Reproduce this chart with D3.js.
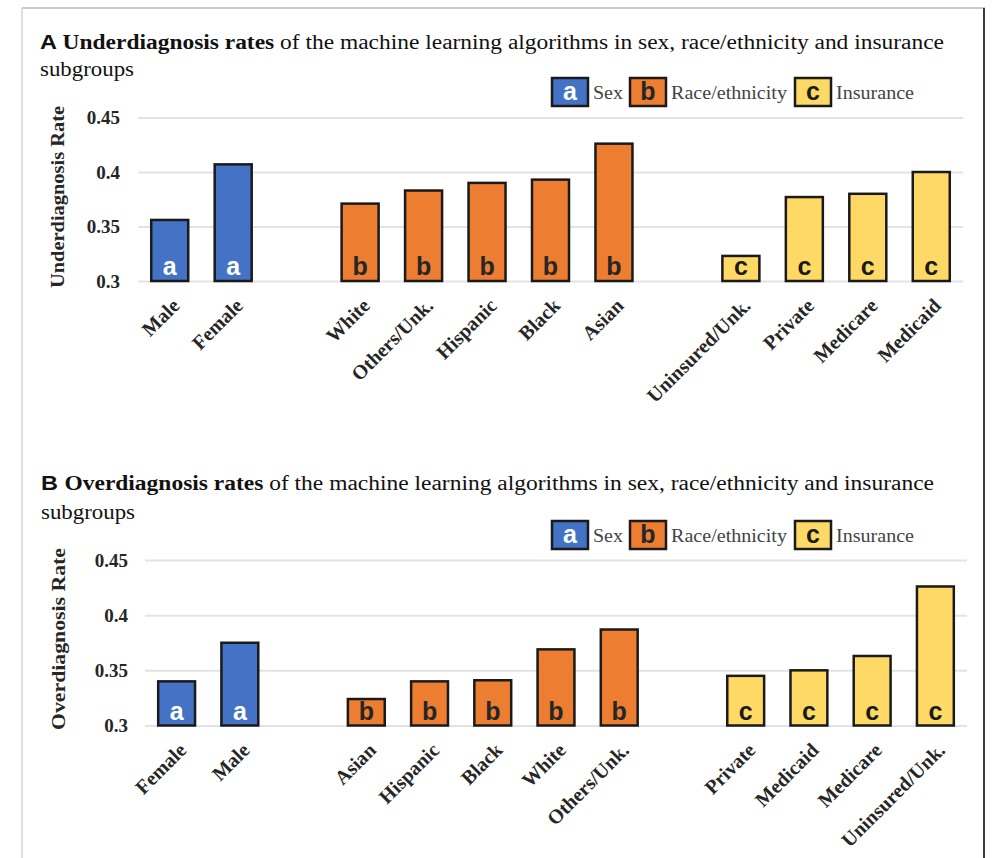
<!DOCTYPE html>
<html>
<head>
<meta charset="utf-8">
<script src="https://cdn.jsdelivr.net/npm/d3@7"></script>
<style>
  html, body { margin: 0; padding: 0; background: #ffffff; }
  svg { display: block; }
</style>
</head>
<body>
<svg id="chart" width="992" height="858"></svg>
<script>
// Panel A: underdiagnosis rates by subgroup
const sexA = ["Male", "Female"];
const sexValuesA = [0.356, 0.407];
const raceA = ["White", "Others/Unk.", "Hispanic", "Black", "Asian"];
const raceValuesA = [0.371, 0.383, 0.390, 0.393, 0.426];
const insuranceA = ["Uninsured/Unk.", "Private", "Medicare", "Medicaid"];
const insuranceValuesA = [0.323, 0.377, 0.380, 0.400];

// Panel B: overdiagnosis rates by subgroup
const sexB = ["Female", "Male"];
const sexValuesB = [0.340, 0.375];
const raceB = ["Asian", "Hispanic", "Black", "White", "Others/Unk."];
const raceValuesB = [0.324, 0.340, 0.341, 0.369, 0.387];
const insuranceB = ["Private", "Medicaid", "Medicare", "Uninsured/Unk."];
const insuranceValuesB = [0.345, 0.350, 0.363, 0.426];

// Axis ticks and legend entries
const yTicks = [0.3, 0.35, 0.4, 0.45];
const yTickLabels = ["0.3", "0.35", "0.4", "0.45"];
const groupNames = ["Sex", "Race/ethnicity", "Insurance"];
const groupLetters = ["a", "b", "c"];

const groupFill = ["#4472C4", "#ED7D31", "#FFD966"];
const letterFill = ["#ffffff", "#262626", "#1a1a1a"];
const serif = "'Liberation Serif', 'Times New Roman', serif";
const sans = "'Liberation Sans', Arial, sans-serif";

const svg = d3.select("#chart");
svg.append("rect").attr("width", 992).attr("height", 858).attr("fill", "#ffffff");

// outer frame
svg.append("line").attr("x1", 22).attr("x2", 985).attr("y1", 8).attr("y2", 8)
  .attr("stroke", "#c9c9c9").attr("stroke-width", 2);
svg.append("line").attr("x1", 22).attr("x2", 22).attr("y1", 8).attr("y2", 858)
  .attr("stroke", "#d6d6d6").attr("stroke-width", 1.5);
svg.append("line").attr("x1", 984).attr("x2", 984).attr("y1", 8).attr("y2", 858)
  .attr("stroke", "#3a3a3a").attr("stroke-width", 2);

function buildRows(prefix, groups) {
  const rows = [];
  const domain = [];
  groups.forEach((g, gi) => {
    if (gi > 0) domain.push(prefix + "-gap" + gi);
    g.names.forEach((name, i) => {
      const key = prefix + "-" + gi + "-" + name;
      rows.push({ key, label: name, value: g.values[i], group: gi });
      domain.push(key);
    });
  });
  return { rows, domain };
}

function drawPanel(cfg) {
  const { rows, domain } = buildRows(cfg.id, cfg.groups);
  const labelOf = new Map(rows.map(r => [r.key, r.label]));

  const x = d3.scaleBand().domain(domain).range([cfg.x0, cfg.x1])
    .paddingInner(0.417).paddingOuter(0.2085);
  const y = d3.scaleLinear().domain([0.3, 0.45]).range([cfg.yBottom, cfg.yTop]);

  const g = svg.append("g");

  // title, two lines
  const title = g.append("text")
    .attr("x", cfg.titleX).attr("y", cfg.titleY)
    .attr("fill", "#111")
    .attr("font-size", 20)
    .attr("textLength", cfg.titleWidth).attr("lengthAdjust", "spacingAndGlyphs");
  title.append("tspan").attr("font-family", sans).attr("font-weight", "bold").text(cfg.letter + " ");
  title.append("tspan").attr("font-family", serif).attr("font-weight", "bold").text(cfg.boldPart);
  title.append("tspan").attr("font-family", serif).text(cfg.restPart);
  g.append("text")
    .attr("x", cfg.titleX).attr("y", cfg.titleY + cfg.subGap)
    .attr("font-family", serif).attr("font-size", 20).attr("fill", "#111")
    .attr("textLength", 94).attr("lengthAdjust", "spacingAndGlyphs")
    .text("subgroups");

  // gridlines
  g.append("g")
    .attr("transform", `translate(${cfg.x0},0)`)
    .call(d3.axisLeft(y).tickValues(yTicks).tickSize(-(cfg.x1 - cfg.x0)).tickFormat(""))
    .call(s => s.select(".domain").remove())
    .call(s => s.selectAll(".tick line").attr("stroke", "#e3e3e3").attr("stroke-width", 2));

  // y axis labels
  g.append("g")
    .attr("transform", `translate(${cfg.x0},0)`)
    .call(d3.axisLeft(y).tickValues(yTicks).tickSize(0).tickPadding(cfg.tickPad)
      .tickFormat((d, i) => yTickLabels[i]))
    .call(s => s.select(".domain").remove())
    .call(s => s.selectAll(".tick text")
      .attr("font-family", serif).attr("font-weight", "bold")
      .attr("font-size", 19).attr("fill", "#262626"));

  // y axis title
  g.append("text")
    .attr("transform", `translate(${cfg.yLabelX},${cfg.yLabelY}) rotate(-90)`)
    .attr("text-anchor", "middle").attr("dy", "0.35em")
    .attr("font-family", serif).attr("font-weight", "bold")
    .attr("font-size", 19).attr("fill", "#262626")
    .attr("textLength", 182).attr("lengthAdjust", "spacingAndGlyphs")
    .text(cfg.yTitle);

  // bars
  g.append("g").selectAll("rect").data(rows).join("rect")
    .attr("x", d => x(d.key))
    .attr("y", d => y(d.value))
    .attr("width", x.bandwidth())
    .attr("height", d => y(0.3) - y(d.value))
    .attr("fill", d => groupFill[d.group])
    .attr("stroke", "#1a1a1a").attr("stroke-width", 2.5);

  // group letters inside bars
  g.append("g").selectAll("text").data(rows).join("text")
    .attr("x", d => x(d.key) + x.bandwidth() / 2)
    .attr("y", y(0.3) - 6)
    .attr("text-anchor", "middle")
    .attr("font-family", sans).attr("font-weight", "bold").attr("font-size", 25)
    .attr("fill", d => letterFill[d.group])
    .text(d => groupLetters[d.group]);

  // category axis
  g.append("g")
    .attr("transform", `translate(0,${y(0.3)})`)
    .call(d3.axisBottom(x).tickValues(rows.map(r => r.key)).tickSize(0)
      .tickFormat(k => labelOf.get(k)))
    .call(s => s.select(".domain").remove())
    .call(s => s.selectAll(".tick text")
      .attr("x", 0).attr("y", 0).attr("dy", "0.35em")
      .attr("text-anchor", "end")
      .attr("transform", "translate(6,21) rotate(-45)")
      .attr("font-family", serif).attr("font-weight", "bold")
      .attr("font-size", 20).attr("fill", "#262626"));

  // legend
  const legendBoxX = [552, 630, 795];
  const legendTextW = [30, 116, 78];
  const lg = g.append("g").attr("transform", `translate(0,${cfg.legendY})`);
  groupNames.forEach((name, i) => {
    lg.append("rect")
      .attr("x", legendBoxX[i]).attr("y", 0).attr("width", 36).attr("height", 28)
      .attr("fill", groupFill[i]).attr("stroke", "#1a1a1a").attr("stroke-width", 2.5);
    lg.append("text")
      .attr("x", legendBoxX[i] + 18).attr("y", 22)
      .attr("text-anchor", "middle")
      .attr("font-family", sans).attr("font-weight", "bold").attr("font-size", 25)
      .attr("fill", letterFill[i]).text(groupLetters[i]);
    lg.append("text")
      .attr("x", legendBoxX[i] + 41).attr("y", 21)
      .attr("font-family", serif).attr("font-size", 18).attr("fill", "#444")
      .attr("textLength", legendTextW[i]).attr("lengthAdjust", "spacingAndGlyphs")
      .text(name);
  });
}

drawPanel({
  id: "A", letter: "A",
  boldPart: "Underdiagnosis rates",
  restPart: " of the machine learning algorithms in sex, race/ethnicity and insurance",
  titleX: 40, titleY: 49, titleWidth: 904, subGap: 27,
  legendY: 78,
  x0: 138, x1: 963, yTop: 117.5, yBottom: 281, tickPad: 18,
  yTitle: "Underdiagnosis Rate", yLabelX: 57, yLabelY: 197,
  groups: [
    { names: sexA, values: sexValuesA },
    { names: raceA, values: raceValuesA },
    { names: insuranceA, values: insuranceValuesA }
  ]
});

drawPanel({
  id: "B", letter: "B",
  boldPart: "Overdiagnosis rates",
  restPart: " of the machine learning algorithms in sex, race/ethnicity and insurance",
  titleX: 41, titleY: 490, titleWidth: 893, subGap: 29,
  legendY: 521,
  x0: 145, x1: 967, yTop: 560, yBottom: 725.5, tickPad: 17,
  yTitle: "Overdiagnosis Rate", yLabelX: 58, yLabelY: 639,
  groups: [
    { names: sexB, values: sexValuesB },
    { names: raceB, values: raceValuesB },
    { names: insuranceB, values: insuranceValuesB }
  ]
});
</script>
</body>
</html>
